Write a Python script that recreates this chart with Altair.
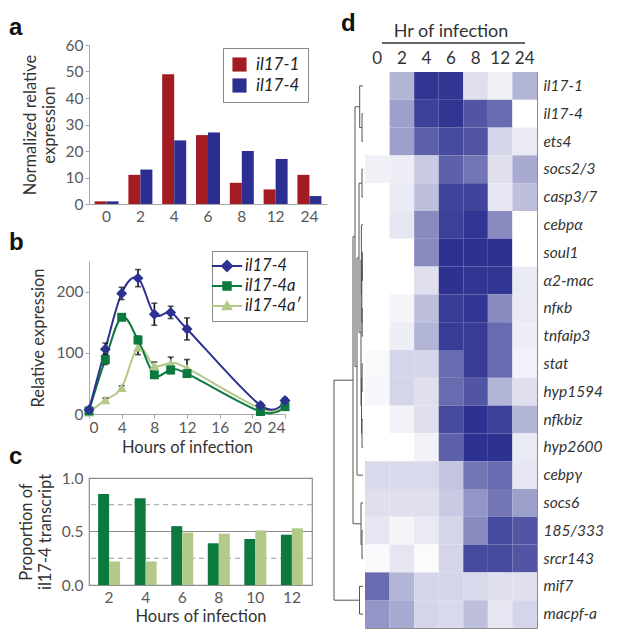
import json
import altair as alt
import pandas as pd

FONT = "Lato"
LETTER_FONT = "Liberation Sans"
GRAY_LABEL = "#595959"
TITLE_COLOR = "#333333"
AXIS_COLOR = "#a6a6a6"

# ---------------- panel a ----------------
a_hours = ["0", "2", "4", "6", "8", "12", "24"]
a_genes = ["il17-1", "il17-4"]
a_il17_1 = [1, 11, 49, 26, 8, 5.5, 11]
a_il17_4 = [1, 13, 24, 27, 20, 17, 3]
a_colors = ["#a31c22", "#2c2f91"]

# ---------------- panel b ----------------
b_hours = [0, 2, 4, 6, 8, 10, 12, 21, 24]
b_series = ["il17-4", "il17-4a", "il17-4a\u2032"]
b_il17_4 = [7, 106, 197, 222, 163, 166, 139, 14, 22]
b_il17_4_err = [3, 10, 10, 14, 18, 10, 18, 4, 4]
b_il17_4a = [5, 89, 158, 121, 64, 72, 66, 4, 12]
b_il17_4a_err = [2, 8, 4, 6, 4, 6, 5, 2, 3]
b_il17_4ap = [3, 23, 43, 109, 79, 83, 75, 9, 12]
b_il17_4ap_err = [1, 3, 3, 12, 6, 10, 14, 2, 3]
b_colors = ["#2e3192", "#0c7a3e", "#b3c98a"]
b_shapes = ["diamond", "square", "triangle-up"]
b_sizes = [120, 80, 100]
b_legend_paths = [
    "M-1.75,-0.12H1.75V0.12H-1.75Z M0,-0.75L0.75,0L0,0.75L-0.75,0Z",
    "M-1.75,-0.12H1.75V0.12H-1.75Z M-0.55,-0.55H0.55V0.55H-0.55Z",
    "M-1.75,-0.12H1.75V0.12H-1.75Z M0,-0.68L0.68,0.5L-0.68,0.5Z",
]

# ---------------- panel c ----------------
c_hours = ["2", "4", "6", "8", "10", "12"]
c_series = ["il17-4a", "il17-4a\u2032"]
c_il17_4a = [0.85, 0.81, 0.55, 0.39, 0.43, 0.47]
c_il17_4ap = [0.22, 0.22, 0.49, 0.48, 0.51, 0.53]
c_colors = ["#0c7a3e", "#b3c98a"]
c_dashed = [0.25, 0.75]
c_solid = [0.5]

# ---------------- panel d ----------------
d_hours = ["0", "2", "4", "6", "8", "12", "24"]
d_genes = ["il17-1", "il17-4", "ets4", "socs2/3", "casp3/7", "cebp\u03b1", "soul1",
           "\u03b12-mac", "nf\u03bab", "tnfaip3", "stat", "hyp1594", "nfkbiz",
           "hyp2600", "cebp\u03b3", "socs6", "185/333", "srcr143", "mif7", "macpf-a"]
d_values = [
    [0.00, 0.35, 0.95, 0.95, 0.15, 0.07, 0.35],
    [0.00, 0.45, 0.90, 0.95, 0.80, 0.70, 0.00],
    [0.00, 0.45, 0.75, 0.85, 0.80, 0.20, 0.10],
    [0.07, 0.08, 0.25, 0.75, 0.65, 0.15, 0.40],
    [0.00, 0.10, 0.30, 0.88, 0.88, 0.12, 0.30],
    [0.00, 0.12, 0.55, 0.90, 0.95, 0.55, 0.00],
    [0.00, 0.00, 0.55, 0.97, 0.97, 0.97, 0.00],
    [0.00, 0.00, 0.15, 0.97, 0.95, 0.95, 0.10],
    [0.00, 0.05, 0.30, 0.92, 0.95, 0.55, 0.10],
    [0.00, 0.08, 0.35, 0.92, 0.92, 0.70, 0.08],
    [0.03, 0.20, 0.20, 0.70, 0.92, 0.70, 0.06],
    [0.04, 0.20, 0.15, 0.70, 0.80, 0.35, 0.15],
    [0.00, 0.06, 0.15, 0.85, 0.97, 0.90, 0.35],
    [0.00, 0.00, 0.06, 0.75, 0.97, 0.97, 0.10],
    [0.18, 0.18, 0.18, 0.28, 0.65, 0.70, 0.12],
    [0.15, 0.15, 0.15, 0.25, 0.50, 0.65, 0.45],
    [0.12, 0.05, 0.10, 0.20, 0.55, 0.85, 0.80],
    [0.03, 0.12, 0.02, 0.20, 0.85, 0.85, 0.80],
    [0.70, 0.35, 0.20, 0.20, 0.18, 0.15, 0.15],
    [0.50, 0.40, 0.20, 0.18, 0.30, 0.12, 0.20],
]
# dendrogram merges (leaves 0..19, merge k creates node 20+k)
dendro_left = [1, 0, 3, 6, 8, 23, 5, 10, 12, 27, 26, 22, 31, 21, 16, 15, 33, 18, 36]
dendro_right = [2, 20, 4, 7, 9, 24, 25, 11, 13, 28, 29, 30, 14, 32, 17, 34, 35, 19, 37]
dendro_height = [1.0, 3.3, 1.0, 0.6, 0.8, 1.2, 1.6, 0.9, 1.0, 1.5, 2.0, 4.0, 6.0, 8.0,
                 1.0, 2.0, 10.0, 3.5, 29.0]


def letter(t, dx, offset, dy=0):
    return alt.TitleParams(text=t, anchor="start", frame="group", dx=dx, dy=dy,
                           offset=offset, font=LETTER_FONT, fontSize=24,
                           fontWeight="bold", color="#111")


def indep(ch):
    return ch.resolve_scale(color="independent", shape="independent").resolve_legend(
        color="independent", shape="independent")


# ===== panel a =====
df_a = pd.DataFrame({
    "hour": a_hours * 2,
    "gene": [a_genes[0]] * len(a_hours) + [a_genes[1]] * len(a_hours),
    "value": a_il17_1 + a_il17_4,
})
xa = alt.X("hour:N", sort=a_hours, scale=alt.Scale(paddingInner=0.3, paddingOuter=0.17),
           axis=alt.Axis(title=None, labelAngle=0, ticks=False, labelPadding=5))
ya = alt.Y("value:Q", scale=alt.Scale(domain=[0, 60], nice=False),
           axis=alt.Axis(values=[0, 10, 20, 30, 40, 50, 60], tickSize=4,
                         title=["Normalized relative", "expression"], titlePadding=8))
ca = alt.Color("gene:N", scale=alt.Scale(domain=a_genes, range=a_colors),
               legend=alt.Legend(title=None, orient="none", legendX=134, legendY=3,
                                 labelFontStyle="italic", labelFontSize=17,
                                 labelColor="#222", symbolType="square",
                                 symbolSize=200, strokeColor="#888",
                                 fillColor="white", padding=8, rowPadding=3,
                                 labelOffset=8))
a_layers = []
for g, off in zip(a_genes, [-6, 6]):
    a_layers.append(alt.Chart(df_a).transform_filter(alt.datum.gene == g)
                    .mark_bar(width=12, xOffset=off).encode(x=xa, y=ya, color=ca))
chart_a = alt.layer(*a_layers).properties(width=238, height=159,
                                          title=letter("a", -80, 0, 2))

# ===== panel b =====
rows = []
for s, vals, errs in zip(b_series, [b_il17_4, b_il17_4a, b_il17_4ap],
                         [b_il17_4_err, b_il17_4a_err, b_il17_4ap_err]):
    for h, v, e in zip(b_hours, vals, errs):
        rows.append({"hour": h, "series": s, "value": v, "lo": v - e, "hi": v + e})
df_b = pd.DataFrame(rows)

xb = alt.X("hour:Q", scale=alt.Scale(domain=[0, 24], nice=False),
           axis=alt.Axis(values=[0, 4, 8, 12, 16, 20, 24], tickSize=4,
                         title="Hours of infection", titlePadding=4))
yb = alt.Y("value:Q", scale=alt.Scale(domain=[0, 250], nice=False),
           axis=alt.Axis(values=[0, 50, 100, 150, 200, 250], tickSize=4,
                         title="Relative expression", titlePadding=10))

b_layers = []
for s, col in list(zip(b_series, b_colors))[::-1]:
    b_layers.append(
        alt.Chart(df_b).transform_filter(alt.datum.series == s)
        .mark_line(interpolate="cardinal", strokeWidth=2, color=col)
        .encode(x=xb, y=yb)
    )
b_layers.append(alt.Chart(df_b).mark_rule(color="#111", strokeWidth=1.6)
                .encode(x=xb, y=alt.Y("lo:Q"), y2="hi:Q"))
b_layers.append(alt.Chart(df_b).mark_tick(color="#111", orient="horizontal", size=6,
                                          thickness=1.6).encode(x=xb, y=alt.Y("hi:Q")))
b_layers.append(alt.Chart(df_b).mark_tick(color="#111", orient="horizontal", size=6,
                                          thickness=1.6).encode(x=xb, y=alt.Y("lo:Q")))
for s, col, shp, sz in list(zip(b_series, b_colors, b_shapes, b_sizes))[::-1]:
    b_layers.append(
        alt.Chart(df_b).transform_filter(alt.datum.series == s)
        .mark_point(shape=shp, filled=True, color=col, size=sz, opacity=1)
        .encode(x=xb, y=yb)
    )
fill_expr = "{}[indexof({}, datum.value)]".format(
    json.dumps(b_colors), json.dumps(b_series, ensure_ascii=False))
leg_b = alt.Legend(title=None, orient="none", legendX=123, legendY=-10,
                   labelFontStyle="italic", labelFontSize=16.5, labelColor="#222",
                   symbolSize=300, strokeColor="#888", fillColor="white",
                   padding=6, rowPadding=2, labelOffset=9, symbolStrokeWidth=0,
                   symbolOpacity=1)
b_layers.append(
    alt.Chart(df_b).transform_filter("false")
    .mark_point(filled=True, opacity=1, size=300, fill={"expr": fill_expr}, strokeWidth=0)
    .encode(shape=alt.Shape("series:N",
                            scale=alt.Scale(domain=b_series, range=b_legend_paths),
                            legend=leg_b))
)
chart_b = alt.layer(*b_layers).properties(width=196, height=153,
                                          title=letter("b", -80, 0, 4))

# ===== panel c =====
df_c = pd.DataFrame({
    "hour": c_hours * 2,
    "series": [c_series[0]] * len(c_hours) + [c_series[1]] * len(c_hours),
    "value": c_il17_4a + c_il17_4ap,
})
xc = alt.X("hour:N", sort=c_hours, scale=alt.Scale(paddingInner=0.4, paddingOuter=0.25),
           axis=alt.Axis(title="Hours of infection", labelAngle=0, ticks=False,
                         domain=False, labelPadding=5, titlePadding=3))
yc = alt.Y("value:Q", scale=alt.Scale(domain=[0, 1], nice=False),
           axis=alt.Axis(values=[0, 0.5, 1.0], format=".1f", ticks=False, domain=False,
                         labelPadding=6, title=["Proportion of", "il17-4 transcript"],
                         titlePadding=8))
cc = alt.Color("series:N", scale=alt.Scale(domain=c_series, range=c_colors), legend=None)
c_layers = [
    alt.Chart(pd.DataFrame({"value": c_dashed})).mark_rule(
        color="#9a9a9a", strokeDash=[5, 4], strokeWidth=1).encode(y=yc),
    alt.Chart(pd.DataFrame({"value": c_solid})).mark_rule(
        color="#8a8a8a", strokeWidth=1).encode(y=yc),
]
for s, off in zip(c_series, [-5.5, 5.5]):
    c_layers.append(alt.Chart(df_c).transform_filter(alt.datum.series == s)
                    .mark_bar(width=11, xOffset=off).encode(x=xc, y=yc, color=cc))
chart_c = alt.layer(*c_layers).properties(
    width=223, height=107, title=letter("c", -80, 2),
    view=alt.ViewBackground(stroke="#8c8c8c", strokeWidth=1.2))

# ===== panel d =====
heat_rows = []
for g, vals in zip(d_genes, d_values):
    for h, v in zip(d_hours, vals):
        heat_rows.append({"gene": g, "hour": h, "v": v})
df_d = pd.DataFrame(heat_rows)

heat = alt.Chart(df_d).mark_rect().encode(
    x=alt.X("hour:O", sort=d_hours,
            axis=alt.Axis(orient="top", title=None, labelAngle=0, ticks=False, domain=False,
                          labelFontSize=17, labelColor="#333", labelPadding=5)),
    y=alt.Y("gene:N", sort=d_genes,
            axis=alt.Axis(orient="right", title=None, ticks=False, domain=False,
                          labelFontStyle="italic", labelFontSize=15.5, labelColor="#333",
                          labelPadding=6)),
    color=alt.Color("v:Q", scale=alt.Scale(domain=[0, 1], range=["#ffffff", "#272b8d"],
                                           interpolate="rgb"),
                    legend=None),
)
heat_line = alt.Chart(df_d).mark_rule(color="#666", strokeWidth=1).encode(
    x=alt.value(17), x2=alt.value(160), y=alt.value(-29))
chart_heat = alt.layer(heat, heat_line).properties(
    width=172, height=556,
    title=alt.TitleParams(text="Hr of infection", anchor="middle", fontSize=18,
                          font=FONT, fontWeight="normal", color="#333", offset=2),
    view=alt.ViewBackground(stroke="#8c8c8c", strokeWidth=1))

# dendrogram segments computed from the merge table
n_leaves = len(d_genes)
pos = {i: i + 0.5 for i in range(n_leaves)}
hgt = {i: 0.0 for i in range(n_leaves)}
segs = []
for k, (l, r, h) in enumerate(zip(dendro_left, dendro_right, dendro_height)):
    node = n_leaves + k
    segs.append({"x": h, "x2": h, "y": pos[l], "y2": pos[r]})
    segs.append({"x": hgt[l], "x2": h, "y": pos[l], "y2": pos[l]})
    segs.append({"x": hgt[r], "x2": h, "y": pos[r], "y2": pos[r]})
    pos[node] = (pos[l] + pos[r]) / 2
    hgt[node] = h
df_seg = pd.DataFrame(segs)
chart_dendro = alt.Chart(df_seg).mark_rule(color="#555", strokeWidth=1).encode(
    x=alt.X("x:Q", scale=alt.Scale(domain=[0, 29], reverse=True, nice=False), axis=None),
    x2="x2:Q",
    y=alt.Y("y:Q", scale=alt.Scale(domain=[0, n_leaves], reverse=True, nice=False), axis=None),
    y2="y2:Q",
).properties(width=29, height=556, title=letter("d", 7, 36))

spacer = alt.Chart(pd.DataFrame({"v": [0]})).mark_point(opacity=0).encode(
    x=alt.X("v:Q", axis=None), y=alt.Y("v:Q", axis=None)).properties(width=201, height=1)

left = indep(alt.vconcat(chart_a,
                         indep(alt.vconcat(chart_b, chart_c, spacing=64, bounds="flush")),
                         spacing=5))
right = indep(alt.vconcat(spacer, indep(alt.hconcat(chart_dendro, chart_heat, spacing=0)),
                          spacing=26, bounds="flush"))
chart = indep(alt.hconcat(left, right, spacing=5)).configure(
    padding={"left": 0, "top": 3, "right": 0, "bottom": 0},
    font=FONT,
).configure_view(stroke="transparent").configure_axis(
    grid=False, labelFont=FONT, titleFont=FONT, labelFontSize=15.5, titleFontSize=16.5,
    titleFontWeight="normal", labelColor=GRAY_LABEL, titleColor=TITLE_COLOR,
    domainColor=AXIS_COLOR, tickColor=AXIS_COLOR,
).configure_legend(labelFont=FONT)

chart.save("out.html", embed_options={"renderer": "svg", "actions": False})
